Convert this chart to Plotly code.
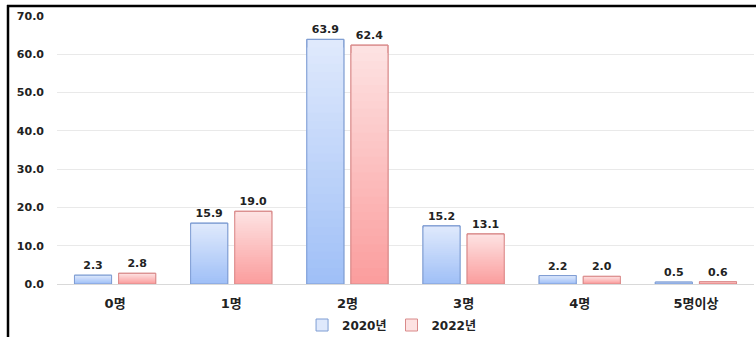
import plotly.graph_objects as go

categories = ["0명", "1명", "2명", "3명", "4명", "5명이상"]
series_names = ["2020년", "2022년"]
values_2020 = [2.3, 15.9, 63.9, 15.2, 2.2, 0.5]
values_2022 = [2.8, 19.0, 62.4, 13.1, 2.0, 0.6]
y_tick_values = [0, 10, 20, 30, 40, 50, 60, 70]

W, H = 756, 337
ML, MR, MT, MB = 57, 2, 16, 53
PW, PH = W - ML - MR, H - MT - MB

FONT = "DejaVu Sans, Noto Sans CJK KR, sans-serif"

styles = {
    "2020년": dict(top=(223, 233, 252), bottom=(160, 192, 247), line="#7f9dd3"),
    "2022년": dict(top=(253, 226, 226), bottom=(251, 158, 158), line="#d98a8a"),
}

N = 30
fig = go.Figure()
for name, vals in zip(series_names, [values_2020, values_2022]):
    st = styles[name]
    for k in range(N):
        f = k / (N - 1)
        c = tuple(round(st["top"][i] + (st["bottom"][i] - st["top"][i]) * f) for i in range(3))
        scale = 1 - k / N
        fig.add_trace(go.Bar(
            x=categories, y=[v * scale for v in vals], offsetgroup=name,
            name=name, legendgroup=name, showlegend=(k == 0),
            marker=dict(color=f"rgb{c}",
                        line=dict(color=st["line"], width=1 if k == 0 else 0)),
            hoverinfo="skip",
        ))
    fig.add_trace(go.Bar(
        x=categories, y=vals, offsetgroup=name, name=name, legendgroup=name,
        showlegend=False,
        marker=dict(color="rgba(0,0,0,0)", line=dict(color=st["line"], width=1)),
        texttemplate="%{y:.1f}", textposition="outside", cliponaxis=False,
        textfont=dict(family=FONT, size=11, color="#222222", weight="bold"),
    ))

def px_x(p):
    return (p - ML) / PW

def px_y(p):
    return (H - MB - p) / PH

fig.update_layout(
    width=W, height=H,
    margin=dict(l=ML, r=MR, t=MT, b=MB, pad=0, autoexpand=False),
    paper_bgcolor="white", plot_bgcolor="white",
    barmode="group", bargap=0.24, bargroupgap=0.16,
    font=dict(family=FONT, size=11, color="#222222"),
    legend=dict(orientation="h", x=0.48, xanchor="center", y=px_y(325), yanchor="middle",
                font=dict(family=FONT, size=12, color="#222222", weight="bold"),
                itemwidth=30, traceorder="normal", tracegroupgap=0),
    showlegend=True,
    shapes=[
        dict(type="line", xref="paper", yref="paper", x0=px_x(8), x1=px_x(8),
             y0=px_y(5), y1=px_y(340), line=dict(color="black", width=2.5)),
        dict(type="line", xref="paper", yref="paper", x0=px_x(7), x1=px_x(760),
             y0=px_y(6), y1=px_y(6), line=dict(color="black", width=2.5)),
    ],
)
fig.update_xaxes(
    type="category", showgrid=False, showline=False, ticks="",
    tickfont=dict(family=FONT, size=13, color="#222222", weight="bold"),
    ticklabelstandoff=10,
)
fig.update_yaxes(
    range=[0, 70], tickvals=y_tick_values, tickformat=".1f",
    showgrid=True, gridcolor="#e9e9e9", gridwidth=1,
    zeroline=True, zerolinecolor="#d9d9d9", zerolinewidth=1,
    showline=False, ticks="",
    tickfont=dict(family=FONT, size=11, color="#222222", weight="bold"),
    ticklabelstandoff=12,
)

fig.write_html("out.html")
